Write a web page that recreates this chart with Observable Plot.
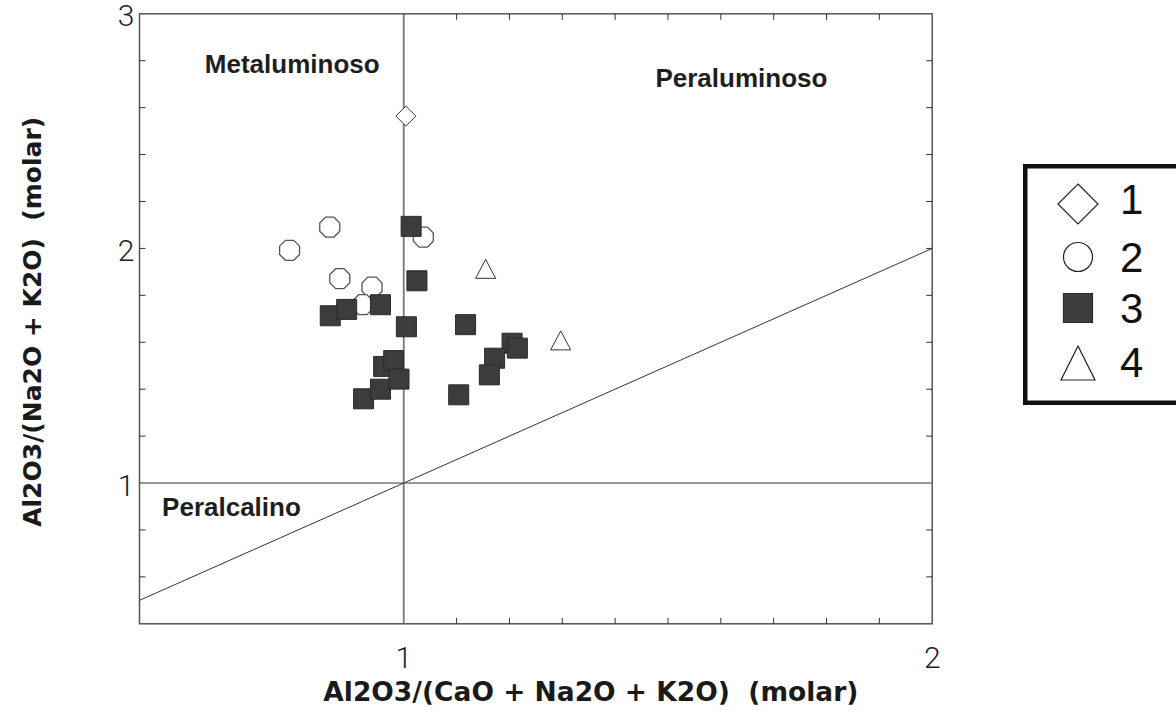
<!DOCTYPE html>
<html>
<head>
<meta charset="utf-8">
<script src="https://cdn.jsdelivr.net/npm/d3@7"></script>
<script src="https://cdn.jsdelivr.net/npm/@observablehq/plot@0.6"></script>
<style>
  html, body { margin: 0; padding: 0; background: #fff; width: 1176px; height: 712px; overflow: hidden; }
  #chart { position: absolute; left: 0; top: 0; }
  #legend { position: absolute; left: 0; top: 0; pointer-events: none; }
</style>
</head>
<body>
<div id="chart"></div>
<svg id="legend" width="1176" height="712"></svg>
<script>
// ---------- data ----------
const xDomain = [0.5, 2];
const yDomain = [0.4, 3];
const xTickLabels = [1, 2];
const yTickLabels = [1, 2, 3];
const xMinorTicks = [1.1, 1.2, 1.3, 1.4, 1.5, 1.6, 1.7, 1.8, 1.9];
const yMinorTicks = [0.6, 0.8, 1.2, 1.4, 1.6, 1.8, 2.0, 2.2, 2.4, 2.6, 2.8];
const xTitle = "Al2O3/(CaO + Na2O + K2O)  (molar)";
const yTitle = "Al2O3/(Na2O + K2O)  (molar)";

// boundary lines: A/CNK = 1, A/NK = 1, and A/NK = A/CNK
const vLine = [1];
const hLine = [1];
const diagX = [0.5, 2];
const diagY = [0.5, 2];

const regionLabels = ["Metaluminoso", "Peraluminoso", "Peralcalino"];
const regionX = [0.789, 1.639, 0.674];
const regionY = [2.784, 2.724, 0.894];

const groupNames = ["1", "2", "3", "4"];
// group 1 (diamond)
const g1x = [1.004];
const g1y = [2.564];
// group 2 (open circle / octagon)
const g2x = [0.860, 0.784, 0.879, 0.940, 0.9225, 1.037];
const g2y = [2.091, 1.992, 1.871, 1.835, 1.760, 2.048];
// group 3 (filled square)
const g3x = [1.014, 1.025, 0.861, 0.892, 0.956, 1.005, 1.117, 1.205, 1.215, 1.172, 1.162, 1.104, 0.924, 0.956, 0.962, 0.981, 0.991];
const g3y = [2.094, 1.862, 1.713, 1.740, 1.760, 1.666, 1.675, 1.596, 1.575, 1.532, 1.461, 1.376, 1.359, 1.400, 1.497, 1.522, 1.443];
// group 4 (open triangle)
const g4x = [1.155, 1.297];
const g4y = [1.913, 1.608];

// ---------- tables ----------
const zip = (xs, ys) => xs.map((x, i) => ({x, y: ys[i]}));
const g1 = zip(g1x, g1y), g2 = zip(g2x, g2y), g3 = zip(g3x, g3y), g4 = zip(g4x, g4y);
const diag = zip(diagX, diagY);
const regions = regionLabels.map((label, i) => ({label, x: regionX[i], y: regionY[i]}));

// ---------- symbols ----------
function diamondSym(a) { return {draw(c) { c.moveTo(0, -a); c.lineTo(a, 0); c.lineTo(0, a); c.lineTo(-a, 0); c.closePath(); }}; }
function octSym(r) {
  const R = r / Math.cos(Math.PI / 8);
  return {draw(c) {
    for (let k = 0; k < 8; k++) {
      const t = Math.PI / 8 + k * Math.PI / 4;
      const x = R * Math.cos(t), y = R * Math.sin(t);
      if (k) c.lineTo(x, y); else c.moveTo(x, y);
    }
    c.closePath();
  }};
}
function circleSym(r) { return {draw(c) { c.moveTo(r, 0); c.arc(0, 0, r, 0, 2 * Math.PI); c.closePath(); }}; }
function squareSym(h) { return {draw(c) { c.moveTo(-h, -h); c.lineTo(h, -h); c.lineTo(h, h); c.lineTo(-h, h); c.closePath(); }}; }
function triSym(w, h) { return {draw(c) { c.moveTo(0, -h / 2); c.lineTo(w / 2, h / 2); c.lineTo(-w / 2, h / 2); c.closePath(); }}; }
function tickSym(dx, dy) { return {draw(c) { c.moveTo(0, 0); c.lineTo(dx, dy); }}; }

const tickFont = "Roboto, 'DejaVu Sans', sans-serif";
const titleFont = "'DejaVu Sans', sans-serif";
const labelFont = "'Liberation Sans', Arial, sans-serif";
const tickStyle = {stroke: "#333", fill: "none", strokeWidth: 1};

const plot = Plot.plot({
  width: 1176,
  height: 712,
  marginLeft: 139,
  marginRight: 244.3,
  marginTop: 13.3,
  marginBottom: 88.7,
  x: {domain: xDomain, axis: null},
  y: {domain: yDomain, axis: null},
  style: {background: "transparent", overflow: "visible"},
  marks: [
    Plot.ruleX(vLine, {x: d => d, stroke: "#777", strokeWidth: 1.8}),
    Plot.ruleY(hLine, {y: d => d, stroke: "#777", strokeWidth: 1.5}),
    Plot.line(diag, {x: "x", y: "y", stroke: "#333", strokeWidth: 1}),
    Plot.frame({stroke: "#555", strokeWidth: 1.5}),
    // inward ticks
    Plot.dot(xMinorTicks, {x: d => d, y: yDomain[0], symbol: tickSym(0, -6), ...tickStyle}),
    Plot.dot(xMinorTicks, {x: d => d, y: yDomain[1], symbol: tickSym(0, 6), ...tickStyle}),
    Plot.dot(yMinorTicks, {y: d => d, x: xDomain[0], symbol: tickSym(6, 0), ...tickStyle}),
    Plot.dot(yMinorTicks, {y: d => d, x: xDomain[1], symbol: tickSym(-6, 0), ...tickStyle}),
    // tick labels
    Plot.text(yTickLabels, {x: xDomain[0], y: d => d, text: d => String(d), textAnchor: "end", dx: -5, dy: 3,
      fontSize: 30, fontFamily: tickFont, fontWeight: 300, fill: "#222"}),
    Plot.text(xTickLabels, {x: d => d, y: yDomain[0], text: d => String(d), dy: 35,
      fontSize: 30, fontFamily: tickFont, fontWeight: 300, fill: "#222"}),
    // axis titles
    Plot.text([xTitle], {frameAnchor: "bottom", textAnchor: "middle", lineAnchor: "middle", text: d => d, dx: 55, dy: 69,
      fontSize: 26.5, fontWeight: "bold", fontFamily: titleFont, fill: "#1a1a1a"}),
    Plot.text([yTitle], {frameAnchor: "left", textAnchor: "middle", lineAnchor: "middle", text: d => d, rotate: -90, dx: -107, dy: 3,
      fontSize: 25, fontWeight: "bold", fontFamily: titleFont, fill: "#1a1a1a"}),
    // region labels
    Plot.text(regions, {x: "x", y: "y", text: "label", fontSize: 26, fontWeight: "bold",
      fontFamily: labelFont, fill: "#1e1e1e"}),
    // data
    Plot.dot(g1, {x: "x", y: "y", symbol: diamondSym(10), fill: "white", stroke: "#333", strokeWidth: 1}),
    Plot.dot(g2, {x: "x", y: "y", symbol: octSym(10), fill: "white", stroke: "#555", strokeWidth: 1.3}),
    Plot.dot(g3, {x: "x", y: "y", symbol: squareSym(10), fill: "#3c3c3c", stroke: "#2a2a2a", strokeWidth: 1}),
    Plot.dot(g4, {x: "x", y: "y", symbol: triSym(20, 19), fill: "white", stroke: "#333", strokeWidth: 1})
  ]
});
document.getElementById("chart").appendChild(plot);

// ---------- legend ----------
const legendSyms = [diamondSym(20), circleSym(14.5), squareSym(14.5), triSym(34, 34)];
const legendFill = ["white", "white", "#3c3c3c", "white"];
const legendStroke = ["#222", "#222", "#2a2a2a", "#222"];
const legendSymY = [204, 257, 308, 363];
const legendTextY = [199, 257, 308, 362];
const lg = d3.select("#legend");
lg.append("rect").attr("x", 1025.25).attr("y", 166.25).attr("width", 220).attr("height", 236.5)
  .attr("fill", "white").attr("stroke", "#111").attr("stroke-width", 4.5);
groupNames.forEach((name, i) => {
  lg.append("path").attr("d", d3.symbol(legendSyms[i])())
    .attr("transform", `translate(1078,${legendSymY[i]})`)
    .attr("fill", legendFill[i]).attr("stroke", legendStroke[i]).attr("stroke-width", 1.2);
  lg.append("text").attr("x", 1120).attr("y", legendTextY[i]).attr("dy", "0.36em")
    .attr("font-family", labelFont).attr("font-size", 42).attr("fill", "#111").text(name);
});
</script>
</body>
</html>
